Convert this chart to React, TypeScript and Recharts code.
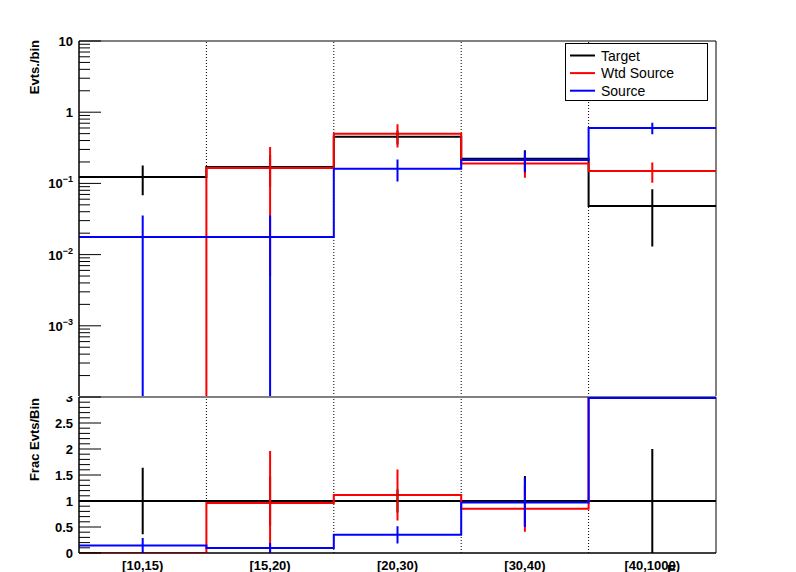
import React from "react";
import { ComposedChart, Line, XAxis, YAxis, ReferenceLine, ReferenceArea } from "recharts";

// bins of E_maxFcell
const bins = ["[10,15)", "[15,20)", "[20,30)", "[30,40)", "[40,1000)"];

// upper pad: events per bin
const targetVals = [0.123, 0.17, 0.453, 0.222, 0.048];
const targetErrs = [0.055, 0.08, 0.1, 0.07, 0.035];
const wtdVals = [0, 0.165, 0.5, 0.19, 0.149];
const wtdErrs = [0, 0.16, 0.18, 0.07, 0.047];
const srcVals = [0.0177, 0.0177, 0.161, 0.213, 0.6];
const srcErrs = [0.0177, 0.0177, 0.055, 0.07, 0.11];

// lower pad: fraction relative to target
const targetRatio = [1, 1, 1, 1, 1];
const targetRatioErrs = [0.64, 0.47, 0.22, 0.48, 1.0];
const wtdRatio = [0, 0.96, 1.115, 0.85, 3.1];
const wtdRatioErrs = [0, 1.0, 0.49, 0.44, 0];
const srcRatio = [0.145, 0.095, 0.35, 0.97, 2.98];
const srcRatioErrs = [0.145, 0.095, 0.165, 0.47, 0];

const logLabels: Record<string, string[]> = {
  "10": ["10", ""],
  "1": ["1", ""],
  "0.1": ["10", "\u22121"],
  "0.01": ["10", "\u22122"],
  "0.001": ["10", "\u22123"],
};
const ratioLabels = ["0", "0.5", "1", "1.5", "2", "2.5", "3"];

const legendItems = [
  { name: "Target", color: "#000000" },
  { name: "Wtd Source", color: "#ff0000" },
  { name: "Source", color: "#0000ff" },
];

const LOG_MIN = 1e-4;
const LOG_MAX = 10;
const RATIO_MAX = 3;

const logTicks: number[] = [];
for (let e = -4; e <= 0; e++) for (let m = 1; m <= 9; m++) logTicks.push(+(m * Math.pow(10, e)).toPrecision(3));
logTicks.push(10);
const ratioTicks = Array.from({ length: 31 }, (_, i) => +(i / 10).toFixed(1));

// histogram as a step line over bin edges
function steps(vals: number[], floor: number) {
  const pts = vals.map((v, i) => ({ x: i, y: Math.max(v, floor) }));
  pts.push({ x: vals.length, y: Math.max(vals[vals.length - 1], floor) });
  return pts;
}

// vertical error bars at bin centres, broken with nulls
function errBars(vals: number[], errs: number[], lo: number, hi: number) {
  const out: { x: number; y: number | null }[] = [];
  vals.forEach((v, i) => {
    if (errs[i] <= 0 || v <= lo || v >= hi) return;
    const x = i + 0.5;
    out.push({ x, y: Math.max(v - errs[i], lo) }, { x, y: Math.min(v + errs[i], hi) }, { x, y: null });
  });
  return out;
}

const FONT = "'Liberation Sans', Arial, Helvetica, sans-serif";

function LogTick(props: any) {
  const { x, y, payload } = props;
  const v = payload.value as number;
  const lg = Math.log10(v);
  const major = Math.abs(lg - Math.round(lg)) < 1e-6;
  const lab = logLabels[String(v)];
  return (
    <g>
      <line x1={x} x2={x + (major ? 22 : 11)} y1={y} y2={y} stroke="#000" strokeWidth={1} />
      {major && lab && (
        <text x={x - 6} y={y + 5} textAnchor="end" fontSize={13} fontWeight="bold" fill="#000" fontFamily={FONT}>
          {lab[0]}
          {lab[1] && (
            <tspan fontSize={9} dy={-6}>
              {lab[1]}
            </tspan>
          )}
        </text>
      )}
    </g>
  );
}

function RatioTick(props: any) {
  const { x, y, payload } = props;
  const v = payload.value as number;
  const idx = Math.round(v * 10);
  const major = idx % 5 === 0;
  return (
    <g>
      <line x1={x} x2={x + (major ? 22 : 11)} y1={y} y2={y} stroke="#000" strokeWidth={1} />
      {major && (
        <text x={x - 6} y={y + 5} textAnchor="end" fontSize={13} fontWeight="bold" fill="#000" fontFamily={FONT}>
          {ratioLabels[idx / 5]}
        </text>
      )}
    </g>
  );
}

const lineProps = {
  dataKey: "y",
  dot: false,
  activeDot: false,
  isAnimationActive: false,
  strokeWidth: 2,
  connectNulls: false,
  legendType: "none" as const,
};

const colors = ["#000000", "#ff0000", "#0000ff"];

export default function App() {
  const topSeries = [
    { vals: targetVals, errs: targetErrs },
    { vals: wtdVals, errs: wtdErrs },
    { vals: srcVals, errs: srcErrs },
  ];
  const botSeries = [
    { vals: targetRatio, errs: targetRatioErrs },
    { vals: wtdRatio, errs: wtdRatioErrs },
    { vals: srcRatio, errs: srcRatioErrs },
  ];

  return (
    <div style={{ position: "absolute", left: 0, top: 0, width: 796, height: 572, background: "#fff", overflow: "hidden", fontFamily: FONT }}>
      {/* lower pad */}
      <div style={{ position: "absolute", left: 0, top: 380 }}>
        <ComposedChart width={796} height={192} margin={{ top: 17, right: 80, bottom: 0, left: 19 }}>
          <XAxis
            type="number"
            dataKey="x"
            domain={[0, 5]}
            ticks={[0.5, 1.5, 2.5, 3.5, 4.5]}
            interval={0}
            tickFormatter={(v: number) => bins[Math.floor(v)]}
            tickLine={false}
            axisLine={{ stroke: "#000" }}
            tick={{ fill: "#000", fontSize: 13, fontWeight: "bold", fontFamily: FONT }}
            tickMargin={2}
            height={19}
            allowDataOverflow
          />
          <YAxis
            type="number"
            domain={[0, RATIO_MAX]}
            ticks={ratioTicks}
            interval={0}
            allowDataOverflow
            width={60}
            tickLine={false}
            tickSize={0}
            tickMargin={0}
            axisLine={{ stroke: "#000" }}
            tick={<RatioTick />}
          />
          <ReferenceArea x1={0} x2={5} y1={0} y2={RATIO_MAX} fill="none" stroke="#000" strokeWidth={1} />
          {[1, 2, 3, 4].map((e) => (
            <ReferenceLine key={e} x={e} stroke="#000" strokeWidth={1} strokeDasharray="1 2" />
          ))}
          {botSeries.map((s, k) => (
            <Line key={`bs${k}`} {...lineProps} data={steps(s.vals, -1)} type="stepAfter" stroke={colors[k]} />
          ))}
          {botSeries.map((s, k) => (
            <Line key={`be${k}`} {...lineProps} data={errBars(s.vals, s.errs, 0, RATIO_MAX)} type="linear" stroke={colors[k]} />
          ))}
        </ComposedChart>
      </div>

      {/* upper pad */}
      <div style={{ position: "absolute", left: 0, top: 0, width: 796, height: 396, overflow: "hidden", background: "#fff" }}>
        <ComposedChart width={796} height={397} margin={{ top: 41, right: 80, bottom: 0, left: 19 }}>
          <XAxis type="number" dataKey="x" domain={[0, 5]} hide allowDataOverflow />
          <YAxis
            type="number"
            scale="log"
            domain={[LOG_MIN, LOG_MAX]}
            ticks={logTicks}
            interval={0}
            allowDataOverflow
            width={60}
            tickLine={false}
            tickSize={0}
            tickMargin={0}
            axisLine={{ stroke: "#000" }}
            tick={<LogTick />}
          />
          <ReferenceArea x1={0} x2={5} y1={LOG_MIN} y2={LOG_MAX} fill="none" stroke="#000" strokeWidth={1} />
          {[1, 2, 3, 4].map((e) => (
            <ReferenceLine key={e} x={e} stroke="#000" strokeWidth={1} strokeDasharray="1 2" />
          ))}
          {topSeries.map((s, k) => (
            <Line key={`ts${k}`} {...lineProps} data={steps(s.vals, 1e-7)} type="stepAfter" stroke={colors[k]} />
          ))}
          {topSeries.map((s, k) => (
            <Line key={`te${k}`} {...lineProps} data={errBars(s.vals, s.errs, LOG_MIN, LOG_MAX)} type="linear" stroke={colors[k]} />
          ))}
        </ComposedChart>
      </div>

      {/* titles and legend */}
      <svg width={796} height={572} style={{ position: "absolute", left: 0, top: 0, pointerEvents: "none" }}>
        <text transform="translate(39,40) rotate(-90)" textAnchor="end" fontSize={13} fontWeight="bold" fontFamily={FONT} fill="#000">
          Evts./bin
        </text>
        <text transform="translate(39,398) rotate(-90)" textAnchor="end" fontSize={13} fontWeight="bold" fontFamily={FONT} fill="#000">
          Frac Evts/Bin
        </text>
        <text x={667} y={575} fontSize={14} fontWeight="bold" fontFamily={FONT} fill="#000">
          E
          <tspan fontSize={9} dy={4}>
            maxFcell
          </tspan>
        </text>
        <rect x={565.5} y={43.5} width={142} height={57} fill="#fff" stroke="#000" strokeWidth={1} />
        {legendItems.map((it, i) => (
          <g key={it.name}>
            <line x1={570} x2={595} y1={55.5 + i * 17.6} y2={55.5 + i * 17.6} stroke={it.color} strokeWidth={2} />
            <text x={601} y={60.5 + i * 17.6} fontSize={14} fontFamily={FONT} fill="#000">
              {it.name}
            </text>
          </g>
        ))}
      </svg>
    </div>
  );
}
